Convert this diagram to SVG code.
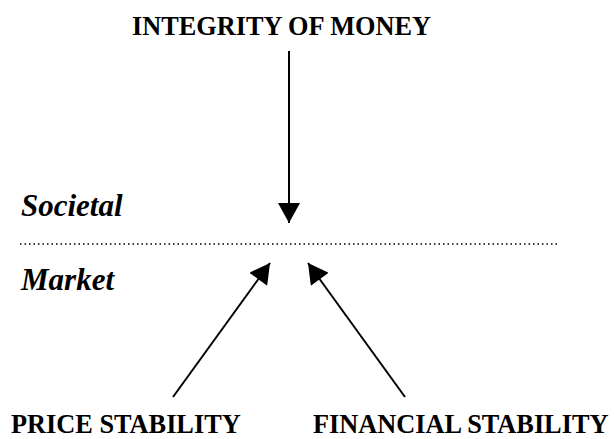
<svg xmlns="http://www.w3.org/2000/svg" width="614" height="439" viewBox="0 0 614 439">
<style>
text{font-family:'Liberation Serif','Times New Roman',Times,'DejaVu Serif',serif;fill:#000;font-weight:700}
.lbl{font-size:26.3px}
.lvl{font-style:italic;font-size:31px}
.conn{stroke:#000;stroke-width:2;fill:none}
</style>
<defs>
<marker id="ah" markerUnits="userSpaceOnUse" markerWidth="22" markerHeight="22" viewBox="0 0 20 22" refX="20" refY="11" orient="auto">
<path d="M0,0 L20,11 L0,22 Z" fill="#000"/>
</marker>
</defs>
<rect width="614" height="439" fill="#fff"/>
<g id="integrity"><text class="lbl" x="132" y="35" font-family="Liberation Serif, serif">INTEGRITY OF MONEY</text></g>
<g id="societal"><text class="lvl" x="21" y="216" font-family="Liberation Serif, serif">Societal</text></g>
<g id="market"><text class="lvl" x="21" y="290" font-family="Liberation Serif, serif">Market</text></g>
<g id="price"><text class="lbl" x="11" y="433" font-family="Liberation Serif, serif">PRICE STABILITY</text></g>
<g id="financial"><text class="lbl" x="313" y="433" font-family="Liberation Serif, serif">FINANCIAL STABILITY</text></g>
<g id="divider"><line x1="20" y1="244" x2="558" y2="244" stroke="#000" stroke-width="1.3" stroke-dasharray="1.5 3"/></g>
<g id="connectors">
<line class="conn" x1="289" y1="51" x2="289" y2="223" marker-end="url(#ah)"/>
<line class="conn" x1="173" y1="397" x2="270" y2="263" marker-end="url(#ah)"/>
<line class="conn" x1="405" y1="397" x2="308" y2="263" marker-end="url(#ah)"/>
</g>
</svg>
